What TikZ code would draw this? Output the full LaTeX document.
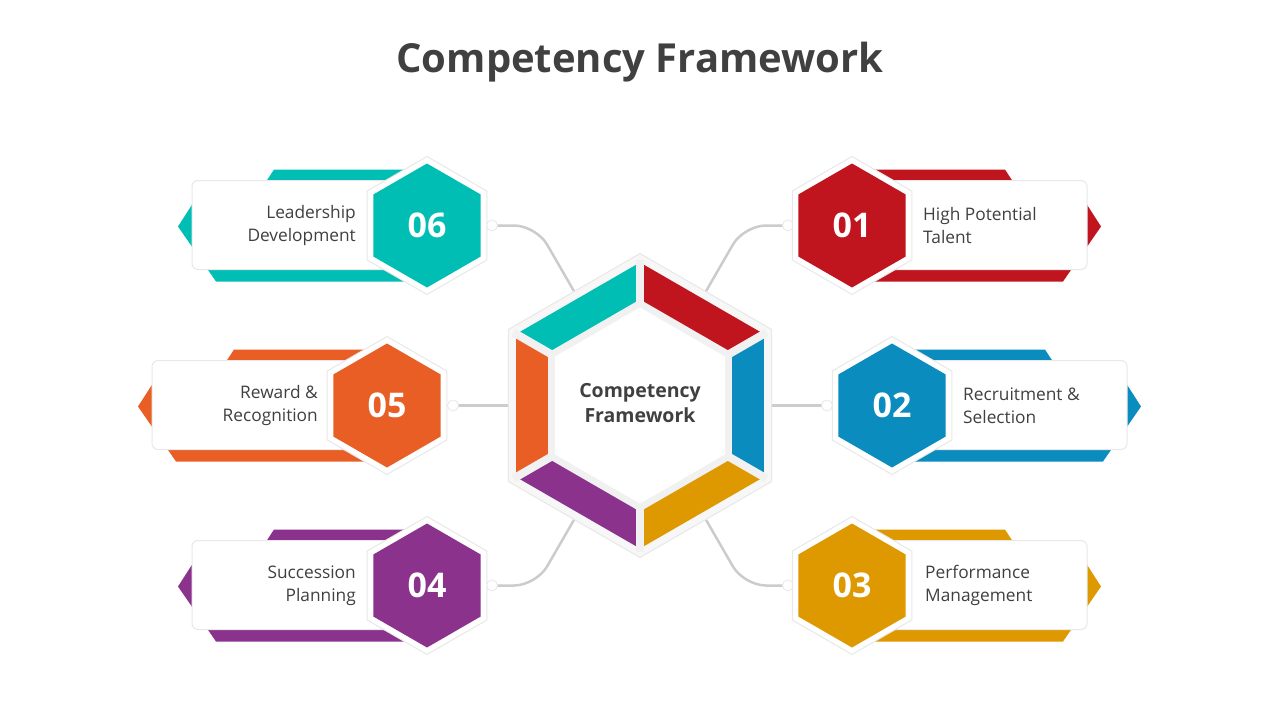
\documentclass[tikz,border=0pt]{standalone}
\usepackage{fontspec}
\setmainfont{Open Sans}
\definecolor{cred}{RGB}{192,20,30}
\definecolor{cblue}{RGB}{10,140,190}
\definecolor{cgold}{RGB}{222,152,0}
\definecolor{cpurple}{RGB}{138,50,140}
\definecolor{corange}{RGB}{232,94,36}
\definecolor{cteal}{RGB}{0,190,180}
\definecolor{txtgray}{RGB}{64,64,64}
\definecolor{linegray}{RGB}{204,204,204}
\definecolor{gapgray}{RGB}{241,241,241}
\definecolor{rimgray}{RGB}{247,247,247}
\definecolor{edgegray}{RGB}{232,232,232}
\def\hexagon#1{(90:#1) -- (30:#1) -- (-30:#1) -- (-90:#1) -- (-150:#1) -- (150:#1) -- cycle}
\tikzset{
  softedge/.style={draw=edgegray, line width=1pt},
  numstyle/.style={font=\bfseries\fontsize{34}{40}\selectfont, text=white, inner sep=0pt},
  lblstyle/.style={font=\fontsize{17.3}{23}\selectfont, text=txtgray, inner sep=0pt},
  connline/.style={draw=linegray, line width=2.5pt, rounded corners=22pt},
  endcircle/.style={fill=white, draw=edgegray, line width=0.8pt},
}
% #1 cx, #2 cy, #3 dir, #4 colour
\newcommand{\itemshapes}[4]{%
  \begin{scope}[shift={(#1,#2)}, xscale=#3]
    \fill[#4] (0,-56) -- (153,-56) -- (166,-36) -- (231,-27) -- (249,1) -- (211,56) -- (0,56) -- cycle;
    \filldraw[fill=white, rounded corners=6pt, softedge] (0,-45) rectangle (235,44);
  \end{scope}}
\newcommand{\itemhex}[3]{%
  \begin{scope}[shift={(#1,#2)}]
    \filldraw[fill=white, softedge] \hexagon{69};
    \fill[#3] \hexagon{62};
  \end{scope}}
\begin{document}
\begin{tikzpicture}[x=1pt,y=-1pt]
\useasboundingbox[fill=white] (0,0) rectangle (1280,720);

\node[font=\bfseries\fontsize{40}{48}\selectfont, text=txtgray] (title) at (640,62) {Competency Framework};

% bands and cards
\itemshapes{852}{225.5}{1}{cred}
\itemshapes{892}{405.5}{1}{cblue}
\itemshapes{852}{585.5}{1}{cgold}
\itemshapes{427}{585.5}{-1}{cpurple}
\itemshapes{387}{405.5}{-1}{corange}
\itemshapes{427}{225.5}{-1}{cteal}

% connectors
\coordinate (s1) at (706,291.2);  \coordinate (k1) at (743.9,225.5); \coordinate (e1) at (783,225.5);
\coordinate (s2) at (772,405.5);  \coordinate (e2) at (822,405.5);
\coordinate (s3) at (706,519.8);  \coordinate (k3) at (743.9,585.5); \coordinate (e3) at (783,585.5);
\coordinate (s4) at (574,519.8);  \coordinate (k4) at (536.1,585.5); \coordinate (e4) at (497,585.5);
\coordinate (s5) at (508,405.5);  \coordinate (e5) at (458,405.5);
\coordinate (s6) at (574,291.2);  \coordinate (k6) at (536.1,225.5); \coordinate (e6) at (497,225.5);
\draw[connline] (s1) -- (k1) -- (e1);
\draw[connline] (s2) -- (e2);
\draw[connline] (s3) -- (k3) -- (e3);
\draw[connline] (s4) -- (k4) -- (e4);
\draw[connline] (s5) -- (e5);
\draw[connline] (s6) -- (k6) -- (e6);
\filldraw[endcircle] (788,225.5) circle (5.5);
\filldraw[endcircle] (827,405.5) circle (5.5);
\filldraw[endcircle] (788,585.5) circle (5.5);
\filldraw[endcircle] (492,585.5) circle (5.5);
\filldraw[endcircle] (453,405.5) circle (5.5);
\filldraw[endcircle] (492,225.5) circle (5.5);

% item hexagons
\itemhex{852}{225.5}{cred}
\itemhex{892}{405.5}{cblue}
\itemhex{852}{585.5}{cgold}
\itemhex{427}{585.5}{cpurple}
\itemhex{387}{405.5}{corange}
\itemhex{427}{225.5}{cteal}

\node[numstyle] (n1) at (852,225.5) {01};
\node[numstyle] (n2) at (892,405.5) {02};
\node[numstyle] (n3) at (852,585.5) {03};
\node[numstyle] (n4) at (427,585.5) {04};
\node[numstyle] (n5) at (387,405.5) {05};
\node[numstyle] (n6) at (427,225.5) {06};

\node[lblstyle, anchor=west, align=left] (l1) at (923,225.5) {High Potential\\Talent};
\node[lblstyle, anchor=west, align=left] (l2) at (963,405.5) {Recruitment \&\\Selection};
\node[lblstyle, anchor=west, align=left] (l3) at (925,585.5) {Performance\\Management};
\node[lblstyle, anchor=east, align=right] (l4) at (356,585.5) {Succession\\Planning};
\node[lblstyle, anchor=east, align=right] (l5) at (318,405.5) {Reward \&\\Recognition};
\node[lblstyle, anchor=east, align=right] (l6) at (356,225.5) {Leadership\\Development};

% central hexagon
\begin{scope}[shift={(640,405.5)}]
  \filldraw[fill=rimgray, softedge] \hexagon{152};
  \fill[cred]    (0,0) -- (-90:143) -- (-30:143) -- cycle;
  \fill[cblue]   (0,0) -- (-30:143) -- (30:143) -- cycle;
  \fill[cgold]   (0,0) -- (30:143) -- (90:143) -- cycle;
  \fill[cpurple] (0,0) -- (90:143) -- (150:143) -- cycle;
  \fill[corange] (0,0) -- (150:143) -- (210:143) -- cycle;
  \fill[cteal]   (0,0) -- (210:143) -- (270:143) -- cycle;
  \foreach \a in {30,90,...,330} \draw[line width=8pt, gapgray] (0,0) -- (\a:146);
  \fill[gapgray] \hexagon{106};
  \fill[white] \hexagon{98};
\end{scope}
\node[font=\bfseries\fontsize{19.5}{25}\selectfont, align=center, text=txtgray, inner sep=0pt] (center) at (640,403.5) {Competency\\Framework};
\end{tikzpicture}
\end{document}
